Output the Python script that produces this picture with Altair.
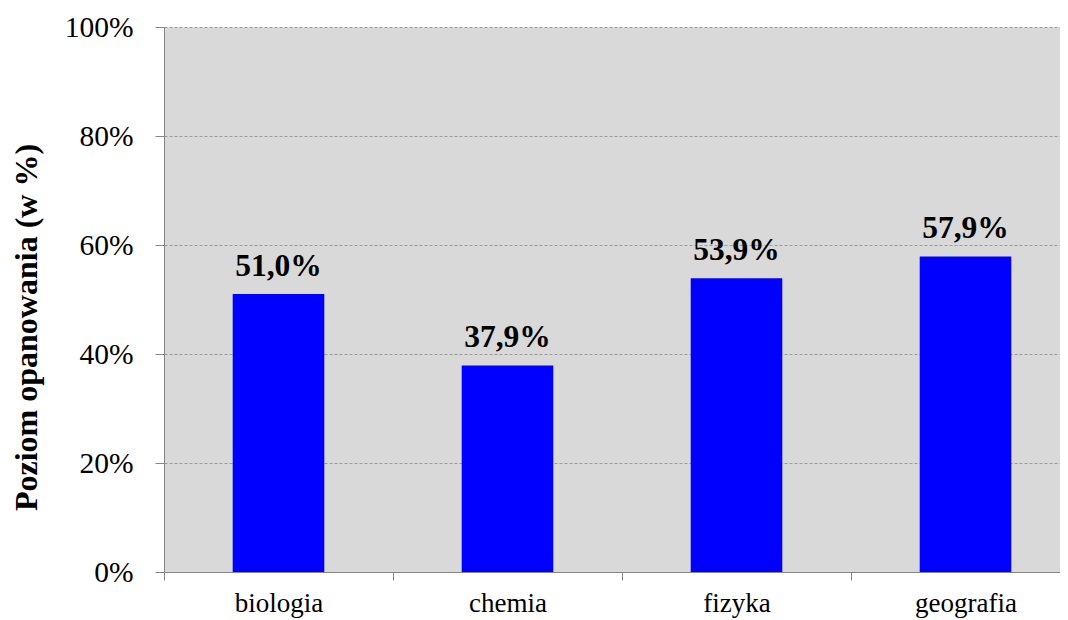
import altair as alt
import pandas as pd

subjects = ["biologia", "chemia", "fizyka", "geografia"]
values = [51.0, 37.9, 53.9, 57.9]
y_ticks = [0, 20, 40, 60, 80, 100]

labels = [f"{v:.1f}%".replace(".", ",") for v in values]
df = pd.DataFrame({"subject": subjects, "value": values, "label": labels})

FONT = "'Liberation Serif', 'Times New Roman', Times, serif"

x_enc = alt.X(
    "subject:N",
    sort=subjects,
    scale=alt.Scale(range=[0, 916], paddingInner=0, paddingOuter=0),
    axis=alt.Axis(
        title=None,
        labelAngle=0,
        labelFont=FONT,
        labelFontSize=27,
        labelColor="#000000",
        labelPadding=10,
        tickBand="extent",
        tickSize=8,
        tickColor="#868686",
        domainColor="#868686",
        grid=False,
    ),
)

y_enc = alt.Y(
    "value:Q",
    scale=alt.Scale(domain=[0, 100], nice=False),
    axis=alt.Axis(
        values=y_ticks,
        labelExpr="datum.value + '%'",
        labelFont=FONT,
        labelFontSize=29.5,
        labelColor="#000000",
        labelPadding=22,
        tickSize=9,
        tickColor="#868686",
        domainColor="#868686",
        grid=True,
        gridColor="#9a9a9a",
        gridDash=[3, 2],
        gridWidth=1,
        title="Poziom opanowania (w %)",
        titleFont=FONT,
        titleFontSize=32,
        titleFontWeight="bold",
        titleColor="#000000",
        titleAngle=270,
        titleAlign="center",
        titleBaseline="middle",
        titleX=-138,
        titleY=300,
    ),
)

bars = alt.Chart(df).mark_bar(color="#0000FF", width={"band": 0.4}).encode(x=x_enc, y=y_enc)

text = alt.Chart(df).mark_text(
    font=FONT, fontSize=31.5, fontWeight="bold", color="#000000",
    baseline="alphabetic", align="center", dy=-18,
).encode(x=alt.X("subject:N", sort=subjects), y=alt.Y("value:Q"), text="label:N")

chart = alt.layer(bars, text).properties(
    width=896,
    height=545,
    autosize=alt.AutoSizeParams(type="none"),
    padding={"left": 156, "top": 19, "right": 0, "bottom": 48},
    background="#FFFFFF",
).configure_view(fill="#D9D9D9", stroke="transparent")

chart.save("out.html", embed_options={"renderer": "svg", "actions": False})
